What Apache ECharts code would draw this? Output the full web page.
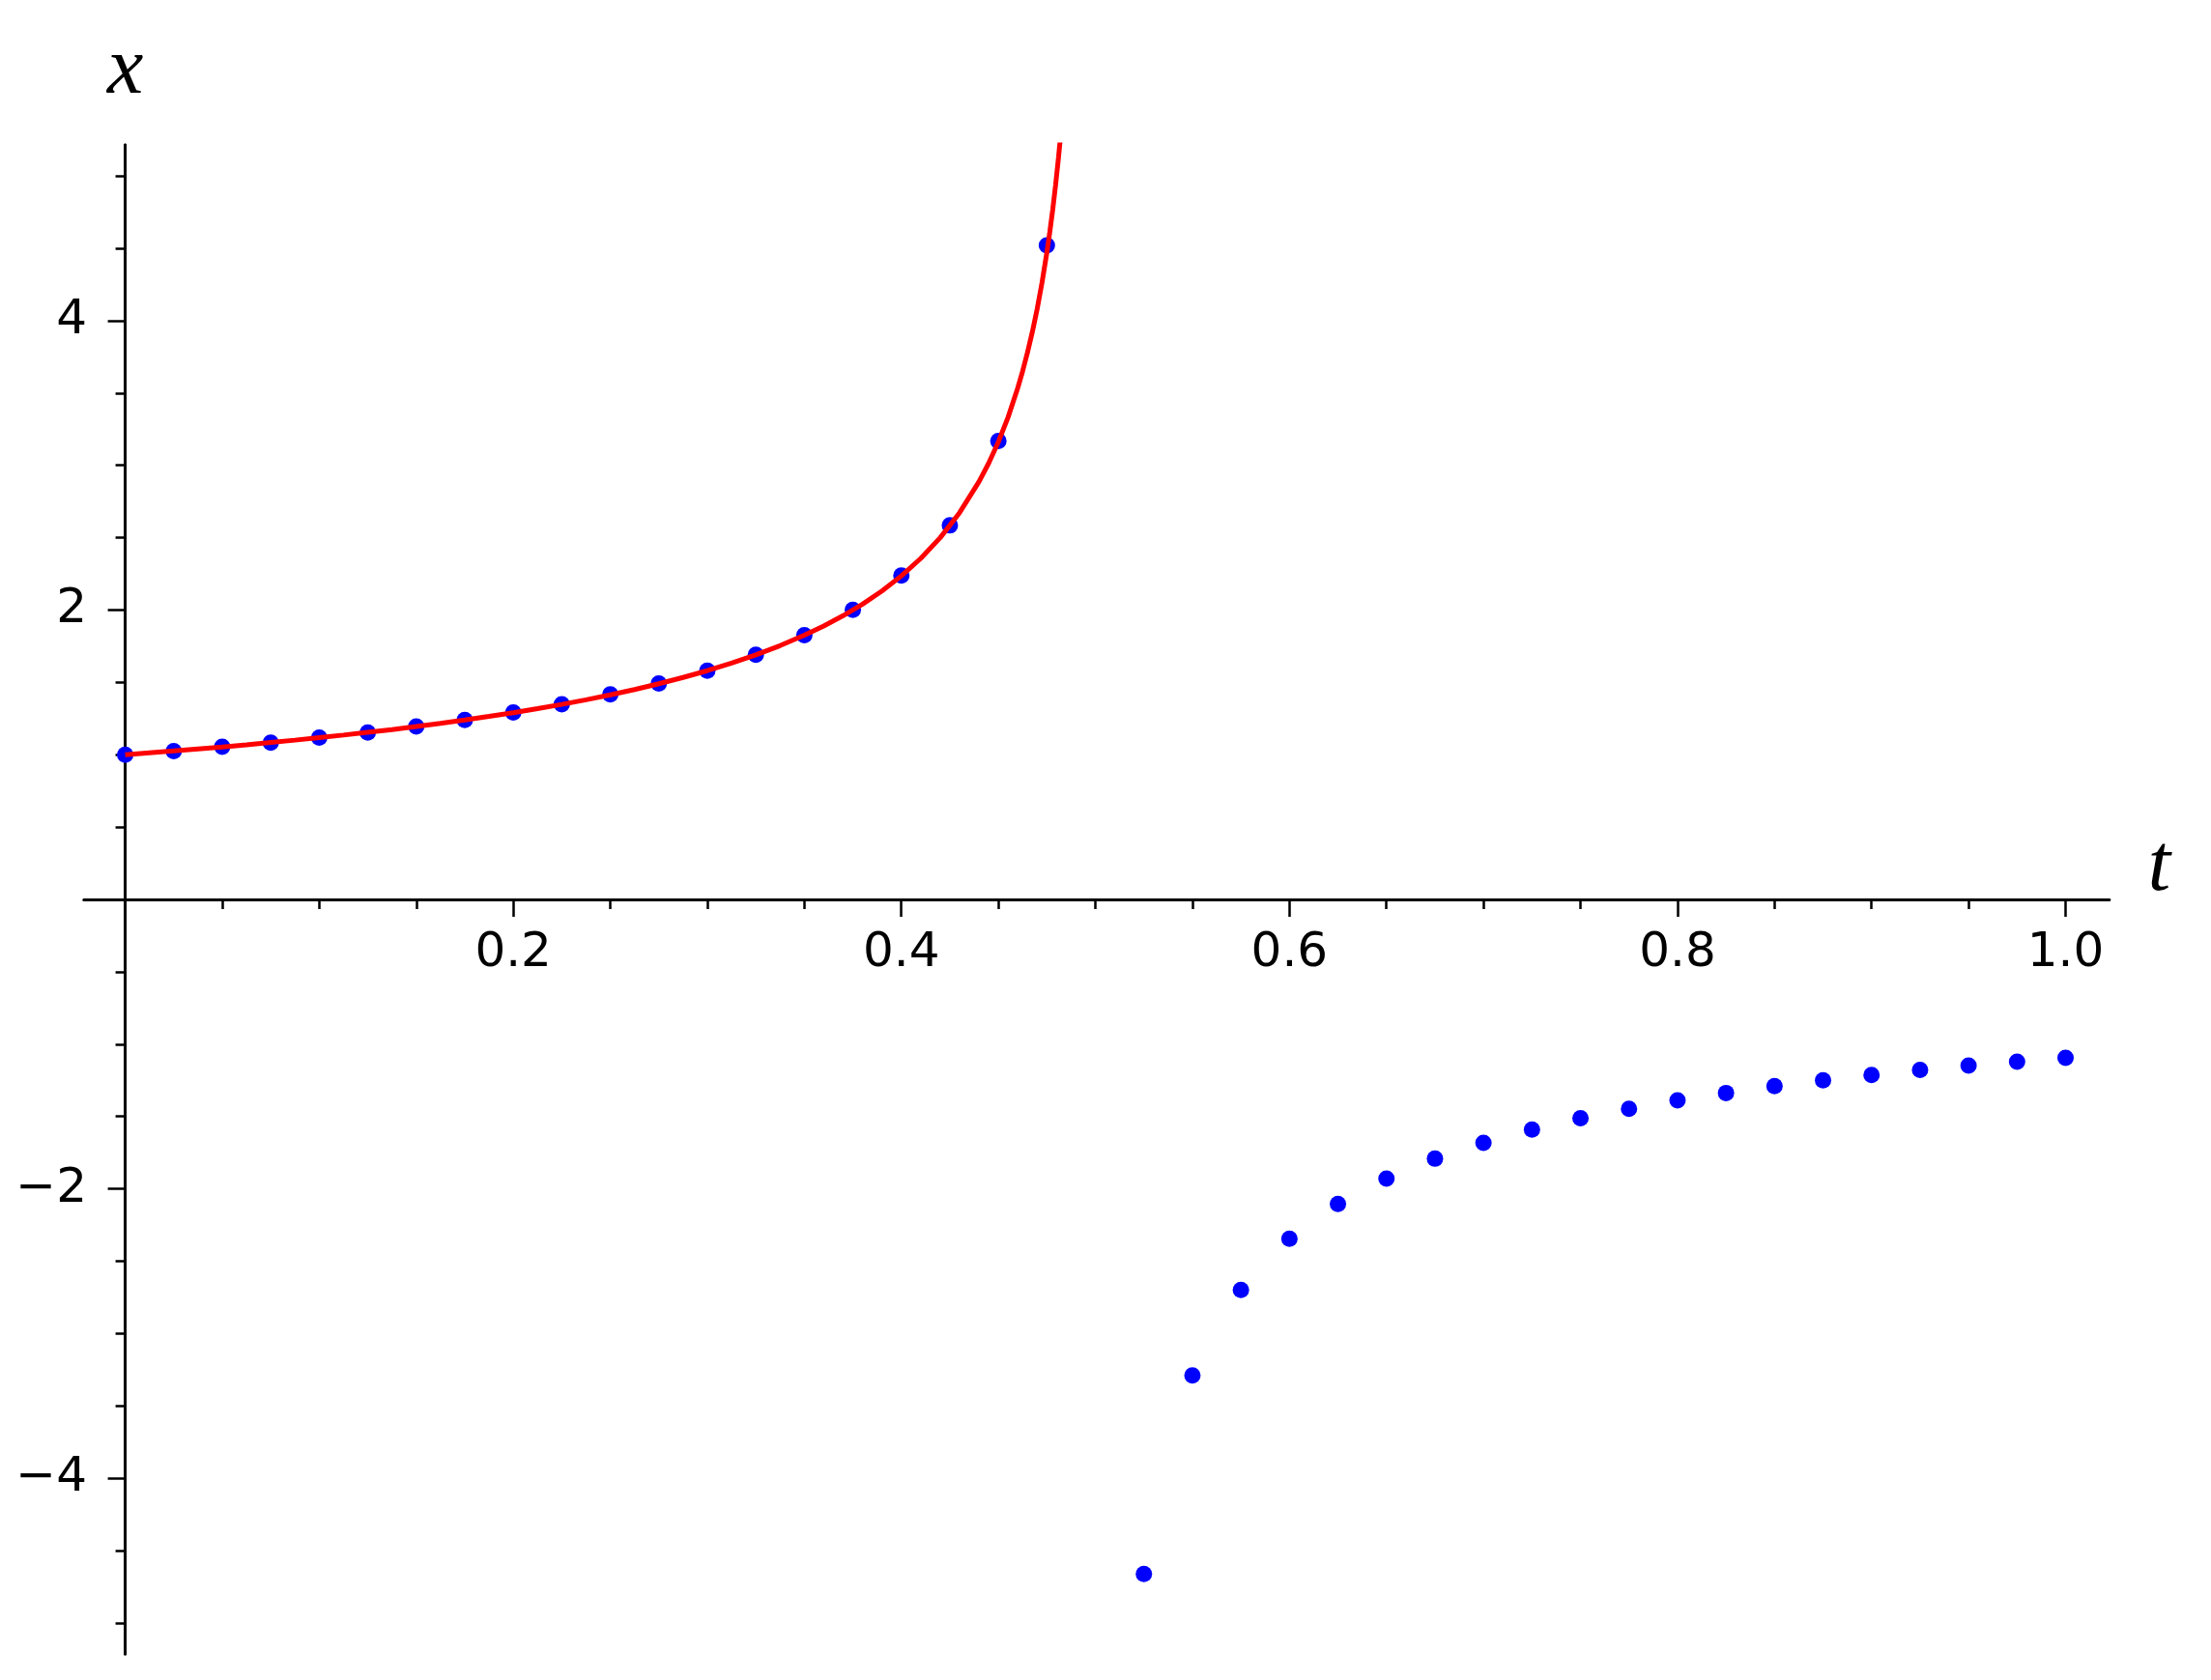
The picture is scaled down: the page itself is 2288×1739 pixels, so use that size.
<!DOCTYPE html>
<html>
<head>
<meta charset="utf-8">
<script src="https://cdn.jsdelivr.net/npm/echarts@6/dist/echarts.min.js"></script>
<style>
  html, body { margin: 0; padding: 0; background: #ffffff; }
  #chart { width: 2288px; height: 1739px; }
</style>
</head>
<body>
<div id="chart"></div>
<script>
// ---- data ----
// blue sample points (t, x)
const dotT = [0, 0.025, 0.05, 0.075, 0.1, 0.125, 0.15, 0.175, 0.2, 0.225, 0.25, 0.275, 0.3, 0.325, 0.35, 0.375, 0.4, 0.425, 0.45, 0.475,
              0.525, 0.55, 0.575, 0.6, 0.625, 0.65, 0.675, 0.7, 0.725, 0.75, 0.775, 0.8, 0.825, 0.85, 0.875, 0.9, 0.925, 0.95, 0.975, 1.0];
const dotX = [1.0, 1.025, 1.055, 1.084, 1.118, 1.153, 1.195, 1.240, 1.292, 1.349, 1.418, 1.492, 1.581, 1.691, 1.826, 2.001, 2.238, 2.585, 3.168, 4.52,
              -4.663, -3.29, -2.70, -2.346, -2.105, -1.930, -1.792, -1.683, -1.591, -1.513, -1.447, -1.389, -1.338, -1.291, -1.251, -1.213, -1.179, -1.149, -1.122, -1.095];

// red curve (t, x)
const curveT = [0, 0.0125, 0.025, 0.0375, 0.05, 0.0625, 0.075, 0.0875, 0.1, 0.1125, 0.125, 0.1375, 0.15, 0.1625, 0.175, 0.1875,
                0.2, 0.2125, 0.225, 0.2375, 0.25, 0.2625, 0.275, 0.2875, 0.3, 0.3125, 0.325, 0.3375, 0.35, 0.36, 0.37, 0.38, 0.39,
                0.40, 0.41, 0.42, 0.43, 0.44, 0.445, 0.45, 0.455, 0.46, 0.4625, 0.465, 0.4675, 0.47, 0.4725, 0.475, 0.4765, 0.478,
                0.4795, 0.481, 0.482];
const curveX = [1.000, 1.013, 1.026, 1.040, 1.054, 1.069, 1.085, 1.101, 1.118, 1.136, 1.155, 1.174, 1.195, 1.217, 1.240, 1.265,
                1.291, 1.319, 1.348, 1.380, 1.414, 1.451, 1.491, 1.534, 1.581, 1.633, 1.690, 1.754, 1.826, 1.890, 1.961, 2.041, 2.132,
                2.236, 2.357, 2.500, 2.673, 2.887, 3.015, 3.162, 3.333, 3.536, 3.651, 3.780, 3.922, 4.082, 4.264, 4.472, 4.613, 4.767,
                4.939, 5.130, 5.270];

// axis ticks and labels
const tMajorTicks = [0, 0.2, 0.4, 0.6, 0.8, 1.0];
const tMinorTicks = [0.05, 0.1, 0.15, 0.25, 0.3, 0.35, 0.45, 0.5, 0.55, 0.65, 0.7, 0.75, 0.85, 0.9, 0.95];
const tLabels = [0.2, 0.4, 0.6, 0.8, 1.0];
const xMajorTicks = [-4, -2, 0, 2, 4];
const xMinorTicks = [-5, -4.5, -3.5, -3, -2.5, -1.5, -1, -0.5, 0.5, 1, 1.5, 2.5, 3, 3.5, 4.5, 5];
const xLabels = [-4, -2, 2, 4];

const tRange = [-0.0212, 1.0225];
const xRange = [-5.215, 5.215];

// ---- chart ----
const dots = dotT.map((t, i) => [t, dotX[i]]);
const curve = curveT.map((t, i) => [t, curveX[i]]);

const labelFont = { fontFamily: 'DejaVu Sans', fontSize: 50, color: '#000' };
const nameFont = { fontFamily: 'Liberation Serif', fontStyle: 'italic', fontSize: 84, color: '#000' };
const lineStyle = { color: '#000', width: 3 };

const chart = echarts.init(document.getElementById('chart'), null, { renderer: 'canvas' });
chart.setOption({
  backgroundColor: '#ffffff',
  animation: false,
  grid: { left: 87, right: 105.3, top: 150, bottom: 27, containLabel: false, outerBoundsMode: 'none' },
  xAxis: [
    {
      type: 'value', min: tRange[0], max: tRange[1], position: 'bottom',
      axisLine: { show: true, onZero: true, onZeroAxisIndex: 0, lineStyle: lineStyle },
      axisTick: { show: true, customValues: tMajorTicks, length: 18, inside: false, lineStyle: { color: '#000', width: 2.5 } },
      axisLabel: { show: true, customValues: tLabels, margin: -750, formatter: v => v.toFixed(1), ...labelFont },
      splitLine: { show: false },
      name: 't', nameLocation: 'end', nameGap: 40,
      nameTextStyle: { ...nameFont, lineHeight: 64, align: 'left', verticalAlign: 'bottom' }
    },
    {
      type: 'value', min: tRange[0], max: tRange[1], position: 'bottom',
      axisLine: { show: true, onZero: true, onZeroAxisIndex: 0, lineStyle: lineStyle },
      axisTick: { show: true, customValues: tMinorTicks, length: 10, inside: false, lineStyle: { color: '#000', width: 2.5 } },
      axisLabel: { show: false },
      splitLine: { show: false }
    }
  ],
  yAxis: [
    {
      type: 'value', min: xRange[0], max: xRange[1], position: 'left',
      axisLine: { show: true, onZero: true, onZeroAxisIndex: 0, lineStyle: lineStyle },
      axisTick: { show: true, customValues: xMajorTicks, length: 18, inside: false, lineStyle: { color: '#000', width: 2.5 } },
      axisLabel: { show: true, customValues: xLabels, margin: -3, formatter: v => (v < 0 ? '\u2212' + Math.abs(v) : String(v)), ...labelFont },
      splitLine: { show: false },
      name: 'x', nameLocation: 'end', nameGap: 76,
      nameTextStyle: { ...nameFont, lineHeight: 84, align: 'center', verticalAlign: 'middle' }
    },
    {
      type: 'value', min: xRange[0], max: xRange[1], position: 'left',
      axisLine: { show: true, onZero: true, onZeroAxisIndex: 0, lineStyle: lineStyle },
      axisTick: { show: true, customValues: xMinorTicks, length: 10, inside: false, lineStyle: { color: '#000', width: 2.5 } },
      axisLabel: { show: false },
      splitLine: { show: false }
    }
  ],
  series: [
    {
      type: 'scatter', xAxisIndex: 0, yAxisIndex: 0,
      data: dots, symbol: 'circle', symbolSize: 17,
      itemStyle: { color: '#0000ff', opacity: 1 }, z: 2
    },
    {
      type: 'line', xAxisIndex: 0, yAxisIndex: 0,
      data: curve, showSymbol: false, symbol: 'none',
      smooth: false, clip: true,
      lineStyle: { color: '#ff0000', width: 5 }, z: 3
    }
  ]
});
</script>
</body>
</html>
